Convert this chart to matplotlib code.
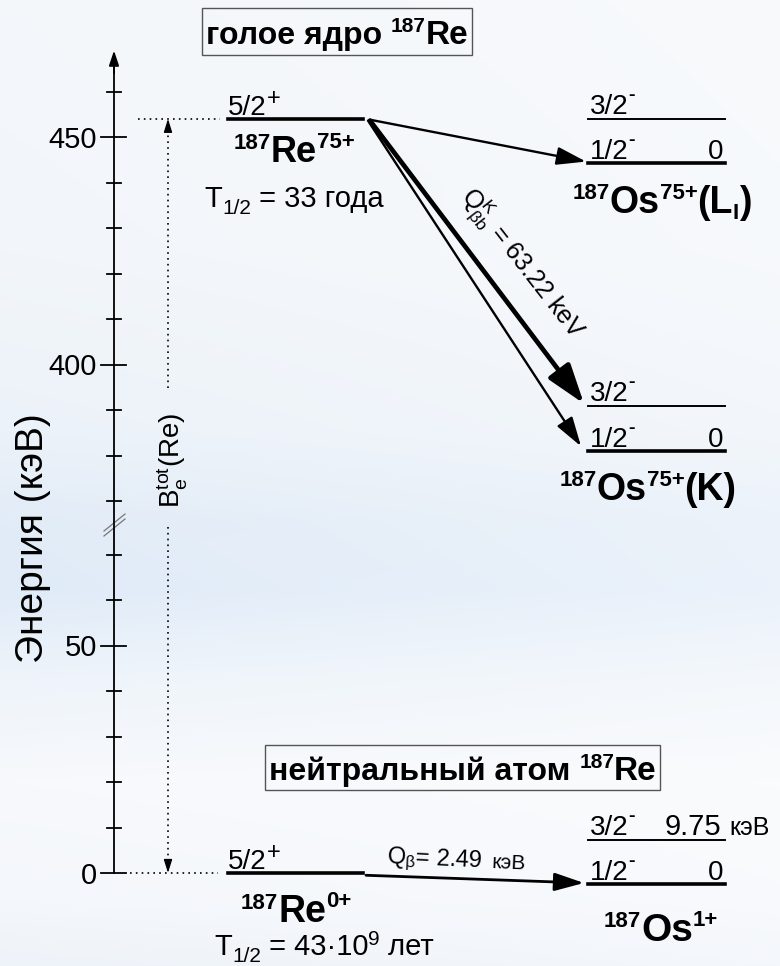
import matplotlib
matplotlib.use('Agg')
import matplotlib.pyplot as plt
from matplotlib.patches import Rectangle
import numpy as np

plt.rcParams['font.family'] = ['Liberation Sans', 'DejaVu Sans']
plt.rcParams['mathtext.fontset'] = 'custom'
plt.rcParams['mathtext.rm'] = 'Liberation Sans'
plt.rcParams['mathtext.it'] = 'Liberation Sans'
plt.rcParams['mathtext.bf'] = 'Liberation Sans:bold'

# level energies in keV
q_bb_K = 63.22          # bound-state beta decay of bare Re into the K shell
e_32 = 9.75             # 3/2- excited level of 187Os
q_beta = 2.49           # neutral atom decay
re_bare = 454.0
os_LI = [444.2, 444.2 + e_32]                      # 1/2-, 3/2-
os_K = [re_bare - q_bb_K - e_32, re_bare - q_bb_K]  # 1/2-, 3/2-
re_atom = 0.0
os_atom = [-q_beta, -q_beta + e_32]

upper_ticks = [370, 380, 390, 400, 410, 420, 430, 440, 450, 460]
upper_major = [400, 450]
lower_ticks = [0, 10, 20, 30, 40, 50, 60, 70]
lower_major = [0, 50]

W, H = 780, 966
PX = 4.55            # pixels per keV on both parts of the axis
y_break = 522        # pixel row of the axis break
y450, y0 = 137, 873

fig = plt.figure(figsize=(W / 100, H / 100), dpi=100)

# background
bg = fig.add_axes([0, 0, 1, 1])
rows = np.arange(H)
stops = [0, 250, 430, 520, 590, 680, 780, 900, 966]
cols = np.array([[244, 247, 250], [242, 246, 250], [236, 242, 249], [226, 236, 247],
                 [224, 235, 248], [238, 244, 250], [247, 249, 252], [244, 247, 251],
                 [238, 243, 249]]) / 255
prof = np.stack([np.interp(rows, stops, cols[:, c]) for c in range(3)], axis=1)
wx = 1 - 0.35 * np.arange(W) / W
img = 1 - (1 - prof[:, None, :]) * wx[None, :, None]
bg.imshow(img, extent=(0, W, H, 0), aspect='auto')
bg.set_xlim(0, W)
bg.set_ylim(H, 0)
bg.axis('off')

# two energy panels sharing the pixel x range
ax_up = fig.add_axes([0, (H - y_break) / H, 1, y_break / H])
ax_up.set_ylim(450 - (y_break - y450) / PX, 450 + y450 / PX)
ax_lo = fig.add_axes([0, 0, 1, (H - y_break) / H])
ax_lo.set_ylim(-(H - y0) / PX, (y0 - y_break) / PX)
for ax in (ax_up, ax_lo):
    ax.set_xlim(0, W)
    ax.axis('off')
    ax.patch.set_visible(False)

renderer = fig.canvas.get_renderer()


def rich(ax, xy, parts, dx=0, dy=0, ha='left'):
    # parts: (text, size, bold, rise in pixels), laid out left to right
    items = []
    for s, size, bold, rise in parts:
        t = ax.annotate(s, xy, xytext=(0, 0), textcoords='offset pixels',
                        fontsize=size, fontweight='bold' if bold else 'normal',
                        ha='left', va='baseline', annotation_clip=False)
        items.append((t, rise, t.get_window_extent(renderer).width))
    total = sum(w for _, _, w in items)
    x = dx - {'left': 0, 'center': total / 2, 'right': total}[ha]
    for t, rise, w in items:
        t.xyann = (x, dy + rise)
        x += w


# energy axis
ax_up.plot([114, 114], [ax_up.get_ylim()[0], 466], color='k', lw=1.3)
ax_up.annotate('', xy=(114, 469), xytext=(114, 464),
               arrowprops=dict(arrowstyle='-|>,head_length=0.9,head_width=0.3',
                               color='k', lw=1.3, shrinkA=0, shrinkB=0))
ax_lo.plot([114, 114], [0, ax_lo.get_ylim()[1]], color='k', lw=1.3)
for ax, ticks, major in ((ax_up, upper_ticks, upper_major), (ax_lo, lower_ticks, lower_major)):
    for t in ticks:
        if t in major:
            ax.plot([101, 126], [t, t], color='k', lw=1.3)
            ax.annotate(str(t), (97, t), ha='right', va='center_baseline', fontsize=21,
                        annotation_clip=False)
        else:
            ax.plot([107, 121], [t, t], color='k', lw=1.3)
for off in (0, 5):
    bg.plot([104, 125], [531 + off, 514 + off], color='#777777', lw=0.9)
bg.text(33, 538, 'Энергия (кэВ)', rotation=90, ha='center', va='center', fontsize=28)

# total electron binding energy
dots = dict(color='k', lw=1.2, linestyle=(0, (1, 2.5)))
ax_up.plot([138, 220], [re_bare, re_bare], **dots)
ax_lo.plot([130, 218], [re_atom, re_atom], **dots)
ax_up.plot([168, 168], [450 - (388 - y450) / PX, re_bare - 2], **dots)
ax_lo.plot([168, 168], [(y0 - 527) / PX, re_atom + 2], **dots)
head = dict(arrowstyle='-|>,head_length=0.8,head_width=0.25', color='k', lw=1,
            shrinkA=0, shrinkB=0)
ax_up.annotate('', xy=(168, re_bare), xytext=(168, re_bare - 2), arrowprops=head)
ax_lo.annotate('', xy=(168, re_atom), xytext=(168, re_atom + 2), arrowprops=head)
bg.text(172, 460, r'$\mathrm{B}_\mathrm{e}^\mathrm{tot}$(Re)', rotation=90,
        ha='center', va='center', fontsize=20)

# boxed titles
bg.add_patch(Rectangle((202, 8), 270, 47, fill=False, ec='#555555', lw=1))
rich(bg, (337, 44), [('голое ядро ', 23, True, 0), ('187', 15, True, 12),
                     ('Re', 24, True, 0)], ha='center')
bg.add_patch(Rectangle((265, 745), 395, 45, fill=False, ec='#555555', lw=1))
rich(bg, (463, 780), [('нейтральный атом ', 23, True, 0), ('187', 15, True, 12),
                      ('Re', 24, True, 0)], ha='center')

# levels
thick, thin = 2.6, 1.4
ax_up.plot([228, 363], [re_bare, re_bare], color='k', lw=thick)
ax_up.plot([588, 725], [os_LI[0], os_LI[0]], color='k', lw=thick)
ax_up.plot([588, 725], [os_LI[1], os_LI[1]], color='k', lw=thin)
ax_up.plot([588, 725], [os_K[0], os_K[0]], color='k', lw=thick)
ax_up.plot([588, 725], [os_K[1], os_K[1]], color='k', lw=thin)
ax_lo.plot([228, 363], [re_atom, re_atom], color='k', lw=thick)
ax_lo.plot([588, 725], [os_atom[0], os_atom[0]], color='k', lw=thick)
ax_lo.plot([588, 725], [os_atom[1], os_atom[1]], color='k', lw=thin)

spin_p = [('5/2', 20, False, 0), ('+', 17, False, 10)]
spin_32 = [('3/2', 20, False, 0), ('-', 14, True, 14)]
spin_12 = [('1/2', 20, False, 0), ('-', 14, True, 14)]

# bare nucleus
rich(ax_up, (228, re_bare), spin_p, dy=4)
rich(ax_up, (294, re_bare), [('187', 16, True, 13), ('Re', 26, True, 0),
                             ('75+', 16, True, 14)], dy=-43, ha='center')
rich(ax_up, (294, re_bare), [('T', 21, False, 0), ('1/2', 15, False, -7),
                             (' = 33 года', 21, False, 0)], dy=-88, ha='center')
for lv in (os_LI, os_K):
    rich(ax_up, (590, lv[1]), spin_32, dy=5)
    rich(ax_up, (590, lv[0]), spin_12, dy=4)
    rich(ax_up, (723, lv[0]), [('0', 20, False, 0)], dy=4, ha='right')
rich(ax_up, (662, os_LI[0]), [('187', 16, True, 14), ('Os', 27, True, 0),
                              ('75+', 16, True, 14), ('(L', 27, True, 0),
                              ('I', 16, True, -6), (')', 27, True, 0)], dy=-50, ha='center')
rich(ax_up, (648, os_K[0]), [('187', 16, True, 14), ('Os', 27, True, 0),
                             ('75+', 16, True, 14), ('(K)', 27, True, 0)], dy=-49, ha='center')

arrow_thin = dict(arrowstyle='-|>,head_length=1.8,head_width=0.55', color='k', lw=1.7,
                  shrinkA=0, shrinkB=0, mutation_scale=10)
arrow_bold = dict(arrowstyle='-|>,head_length=2.4,head_width=0.8', color='k', lw=3.4,
                  shrinkA=0, shrinkB=0, mutation_scale=10)
ax_up.annotate('', xy=(586, os_LI[0] + 0.4), xytext=(370, re_bare - 0.2), arrowprops=arrow_thin)
ax_up.annotate('', xy=(584, os_K[1] + 0.6), xytext=(370, re_bare - 0.4), arrowprops=arrow_bold)
ax_up.annotate('', xy=(581, os_K[0] + 1.0), xytext=(368, re_bare - 0.4), arrowprops=arrow_thin)
bg.text(522, 264, r'$\mathrm{Q}^\mathrm{K}_{\beta b}$ = %.2f keV' % q_bb_K, rotation=-52,
        rotation_mode='anchor', ha='center', va='center', fontsize=18)

# neutral atom
rich(ax_lo, (228, re_atom), spin_p, dy=4)
rich(ax_lo, (296, re_atom), [('187', 16, True, 13), ('Re', 27, True, 0),
                             ('0+', 16, True, 15)], dy=-49, ha='center')
rich(ax_lo, (324, re_atom), [('T', 21, False, 0), ('1/2', 15, False, -7),
                             (' = 43·10', 21, False, 0), ('9', 15, False, 10),
                             (' лет', 21, False, 0)], dy=-82, ha='center')
rich(ax_lo, (590, os_atom[1]), spin_32, dy=5)
rich(ax_lo, (721, os_atom[1]), [('%.2f' % e_32, 21, False, 0)], dy=5, ha='right')
rich(ax_lo, (729, os_atom[1]), [('кэВ', 18, False, 0)], dy=5)
rich(ax_lo, (590, os_atom[0]), spin_12, dy=4)
rich(ax_lo, (723, os_atom[0]), [('0', 20, False, 0)], dy=4, ha='right')
rich(ax_lo, (661, os_atom[0]), [('187', 16, True, 14), ('Os', 28, True, 0),
                                ('1+', 16, True, 15)], dy=-57, ha='center')
ax_lo.annotate('', xy=(584, os_atom[0] + 0.3), xytext=(366, re_atom - 0.5),
               arrowprops=dict(arrowstyle='-|>,head_length=1.8,head_width=0.55', color='k',
                               lw=2.0, shrinkA=0, shrinkB=0, mutation_scale=10))
bg.text(386, 863, r'$\mathrm{Q}_\beta$= %.2f' % q_beta, rotation=-2.6, rotation_mode='anchor',
        ha='left', va='baseline', fontsize=17)
bg.text(492, 868, 'кэВ', rotation=-2.6, rotation_mode='anchor', ha='left', va='baseline',
        fontsize=15)

fig.savefig('out.png', dpi=100)
